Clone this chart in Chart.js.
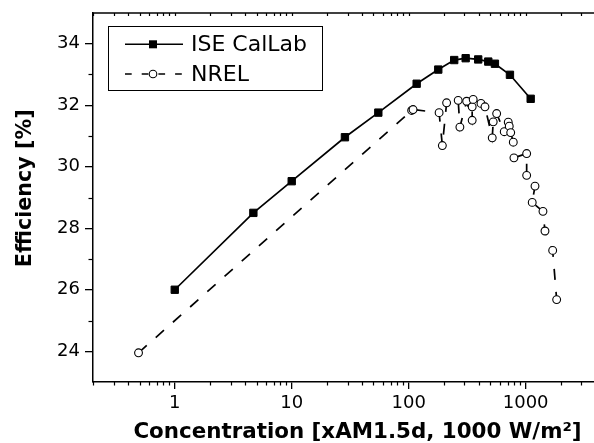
<!DOCTYPE html>
<html>
<head>
<meta charset="utf-8">
<script src="https://cdn.jsdelivr.net/npm/chart.js@4/dist/chart.umd.min.js"></script>
<style>
  html, body { margin: 0; padding: 0; background: #fff; overflow: hidden; }
  #wrap { width: 594px; height: 443px; }
</style>
</head>
<body>
<div id="wrap"><canvas id="c" width="594" height="443"></canvas></div>
<script>
// ---- data ----
const iseConc = [1, 4.7, 10, 28.5, 55, 117, 179, 245, 307, 393, 479, 546, 734, 1104];
const iseEff  = [26.0, 28.5, 29.53, 30.96, 31.76, 32.7, 33.16, 33.47, 33.53, 33.49, 33.42, 33.35, 32.99, 32.21];

const nrelConc = [0.49, 106, 109, 182, 194, 211, 265, 274, 313, 349, 349, 356, 415, 449, 518, 528, 565, 656, 710, 724, 745, 784, 794, 1020, 1020, 1202, 1138, 1406, 1463, 1702, 1841];
const nrelEff  = [23.95, 31.83, 31.86, 31.76, 30.69, 32.08, 32.16, 31.29, 32.13, 31.51, 31.95, 32.19, 32.06, 31.95, 30.94, 31.46, 31.73, 31.14, 31.45, 31.32, 31.11, 30.8, 30.29, 30.43, 29.72, 29.37, 28.84, 28.55, 27.91, 27.28, 25.68];

const xMajorTicks = [1, 10, 100, 1000];
const yMajorTicks = [24, 26, 28, 30, 32, 34];
const yMinorTicks = [25, 27, 29, 31, 33];
const seriesNames = ['ISE CalLab', 'NREL'];
const xTitle = 'Concentration [xAM1.5d, 1000 W/m²]';
const yTitle = 'Efficiency [%]';

const FONT = '"DejaVu Sans", "Liberation Sans", Arial, sans-serif';

const toPts = (xs, ys) => xs.map((x, i) => ({ x: x, y: ys[i] }));

const decor = {
  id: 'decor',
  afterDraw(chart) {
    const ctx = chart.ctx;
    const a = chart.chartArea;
    const xs = chart.scales.x, ys = chart.scales.y;
    ctx.save();
    ctx.strokeStyle = '#000';
    ctx.fillStyle = '#000';
    // top frame line
    ctx.lineWidth = 1.5;
    ctx.beginPath();
    ctx.moveTo(a.left - 0.75, a.top);
    ctx.lineTo(a.right, a.top);
    ctx.stroke();
    // x minor ticks (bottom outward) and top inward ticks
    ctx.lineWidth = 1.2;
    for (let d = 0.1; d <= 1000; d *= 10) {
      for (let m = 1; m <= 9; m++) {
        const v = d * m;
        if (v < xs.min || v > xs.max) continue;
        const px = Math.round(xs.getPixelForValue(v)) + 0.5;
        const major = (m === 1);
        ctx.beginPath();
        if (!major) {
          ctx.moveTo(px, a.bottom);
          ctx.lineTo(px, a.bottom + 3.5);
        }
        ctx.moveTo(px, a.top);
        ctx.lineTo(px, a.top + 3);
        ctx.stroke();
      }
    }
    // y minor ticks
    yMinorTicks.forEach(v => {
      const py = Math.round(ys.getPixelForValue(v)) + 0.5;
      ctx.beginPath();
      ctx.moveTo(a.left, py);
      ctx.lineTo(a.left - 4.5, py);
      ctx.stroke();
    });
    // axis titles
    ctx.font = 'bold 21.4px ' + FONT;
    ctx.textAlign = 'center';
    ctx.textBaseline = 'alphabetic';
    ctx.fillText(xTitle, 357.5, 438);
    ctx.save();
    ctx.translate(30.5, 188.3);
    ctx.rotate(-Math.PI / 2);
    ctx.font = 'bold 20.7px ' + FONT;
    ctx.fillText(yTitle, 0, 0);
    ctx.restore();
    // legend
    ctx.lineWidth = 1;
    ctx.strokeRect(108.5, 26.5, 214, 64);
    const r1 = 44.3, r2 = 74;
    ctx.lineWidth = 1.6;
    ctx.beginPath();
    ctx.moveTo(125, r1); ctx.lineTo(183, r1); ctx.stroke();
    ctx.fillRect(153 - 4, r1 - 4, 8, 8);
    ctx.setLineDash([6.7, 10]);
    ctx.beginPath();
    ctx.moveTo(125, r2); ctx.lineTo(183, r2); ctx.stroke();
    ctx.setLineDash([]);
    ctx.lineWidth = 1.1;
    ctx.fillStyle = '#fff';
    ctx.beginPath(); ctx.arc(153, r2, 3.8, 0, Math.PI * 2); ctx.fill(); ctx.stroke();
    ctx.fillStyle = '#000';
    ctx.font = '22px ' + FONT;
    ctx.textAlign = 'left';
    ctx.textBaseline = 'middle';
    ctx.fillText(seriesNames[0], 191, r1 + 1);
    ctx.fillText(seriesNames[1], 191, r2 + 1);
    ctx.restore();
  }
};

new Chart(document.getElementById('c'), {
  type: 'scatter',
  data: {
    datasets: [
      {
        label: seriesNames[0],
        data: toPts(iseConc, iseEff),
        showLine: true,
        borderColor: '#000',
        backgroundColor: '#000',
        borderWidth: 1.7,
        pointStyle: 'rect',
        pointRadius: 5.2,
        pointBorderWidth: 1,
        pointBackgroundColor: '#000',
        pointBorderColor: '#000'
      },
      {
        label: seriesNames[1],
        data: toPts(nrelConc, nrelEff),
        showLine: true,
        borderColor: '#000',
        backgroundColor: '#fff',
        borderWidth: 1.7,
        borderDash: [11, 12],
        pointStyle: 'circle',
        pointRadius: 3.9,
        pointBorderWidth: 1.1,
        pointBackgroundColor: '#fff',
        pointBorderColor: '#000'
      }
    ]
  },
  options: {
    responsive: false,
    devicePixelRatio: 1,
    animation: false,
    layout: { autoPadding: false, padding: { top: 13, right: 0, left: 0, bottom: 0 } },
    plugins: { legend: { display: false }, tooltip: { enabled: false } },
    scales: {
      x: {
        type: 'logarithmic',
        min: 0.2,
        max: 3840,
        afterBuildTicks: s => { s.ticks = xMajorTicks.map(v => ({ value: v })); },
        afterFit: s => { s.height = 61; s.paddingLeft = 0; s.paddingRight = 0; },
        ticks: {
          autoSkip: false, maxRotation: 0,
          color: '#000',
          font: { family: FONT, size: 18 },
          padding: 4,
          callback: v => String(v)
        },
        grid: { drawOnChartArea: false, drawTicks: true, tickLength: 7, color: '#000', lineWidth: 1.3 },
        border: { display: true, color: '#000', width: 1.5 }
      },
      y: {
        min: 23,
        max: 35,
        afterBuildTicks: s => { s.ticks = yMajorTicks.map(v => ({ value: v })); },
        afterFit: s => { s.width = 93; s.paddingTop = 0; s.paddingBottom = 0; },
        ticks: {
          color: '#000',
          font: { family: FONT, size: 18 },
          padding: 5,
          callback: v => String(v)
        },
        grid: { drawOnChartArea: false, drawTicks: true, tickLength: 8, color: '#000', lineWidth: 1.3 },
        border: { display: true, color: '#000', width: 1.5 }
      }
    }
  },
  plugins: [decor]
});
</script>
</body>
</html>
